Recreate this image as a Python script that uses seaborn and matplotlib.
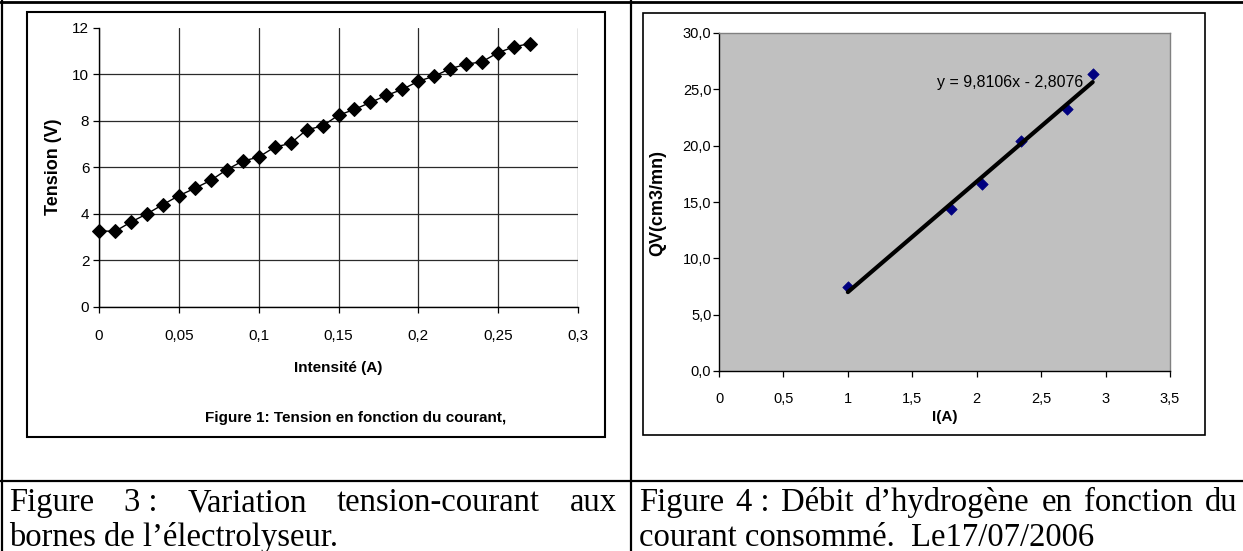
import numpy as np
import pandas as pd
import matplotlib
matplotlib.use("Agg")
import matplotlib.pyplot as plt
import seaborn as sns
from matplotlib.lines import Line2D
from matplotlib.patches import Rectangle

# ---------------- data ----------------
intensite_A = [0.00, 0.01, 0.02, 0.03, 0.04, 0.05, 0.06, 0.07, 0.08, 0.09,
               0.10, 0.11, 0.12, 0.13, 0.14, 0.15, 0.16, 0.17, 0.18, 0.19,
               0.20, 0.21, 0.22, 0.23, 0.24, 0.25, 0.26, 0.27]
tension_V = [3.27, 3.25, 3.65, 4.00, 4.40, 4.78, 5.10, 5.44, 5.90, 6.27,
             6.44, 6.87, 7.03, 7.61, 7.78, 8.24, 8.49, 8.79, 9.09, 9.35,
             9.70, 9.92, 10.24, 10.43, 10.54, 10.93, 11.18, 11.32]

courant_I = [1.00, 1.80, 2.04, 2.34, 2.70, 2.90]
debit_QV = [7.45, 14.40, 16.60, 20.45, 23.25, 26.35]
trend_slope = 9.8106
trend_intercept = -2.8076

left_xticks = [0, 0.05, 0.10, 0.15, 0.20, 0.25, 0.30]
left_xticklabels = ["0", "0,05", "0,1", "0,15", "0,2", "0,25", "0,3"]
left_yticks = [0, 2, 4, 6, 8, 10, 12]
left_yticklabels = ["0", "2", "4", "6", "8", "10", "12"]

right_xticks = [0, 0.5, 1, 1.5, 2, 2.5, 3, 3.5]
right_xticklabels = ["0", "0,5", "1", "1,5", "2", "2,5", "3", "3,5"]
right_yticks = [0, 5, 10, 15, 20, 25, 30]
right_yticklabels = ["0,0", "5,0", "10,0", "15,0", "20,0", "25,0", "30,0"]

left_xlabel = "Intensité (A)"
left_ylabel = "Tension (V)"
left_title = "Figure 1: Tension en fonction du courant,"
right_xlabel = "I(A)"
right_ylabel = "QV(cm3/mn)"

caption3_line1 = ["Figure", "3 :", "Variation", "tension-courant", "aux"]
caption3_line2 = "bornes de l\u2019électrolyseur."
caption4_line1 = ["Figure", "4 :", "Débit", "d\u2019hydrogène", "en", "fonction", "du"]
caption4_line2 = "courant consommé.  Le17/07/2006"

# ---------------- style ----------------
sns.set_theme(style="white", rc={
    "axes.edgecolor": "black", "text.color": "black",
    "axes.labelcolor": "black", "xtick.color": "black", "ytick.color": "black",
})
plt.rcParams["font.family"] = ["Liberation Sans", "DejaVu Sans"]

W, H = 1243, 551
fig = plt.figure(figsize=(W / 100, H / 100), dpi=100)
fig.patch.set_facecolor("white")


def fx(x):
    return x / W


def fy(y):
    return 1 - y / H


def axrect(l, t, r, b):
    return [l / W, 1 - b / H, (r - l) / W, (b - t) / H]


def hline(y, x0, x1, lw):
    fig.add_artist(Line2D([fx(x0), fx(x1)], [fy(y), fy(y)],
                          transform=fig.transFigure, color="black", lw=lw))


def vline(x, y0, y1, lw):
    fig.add_artist(Line2D([fx(x), fx(x)], [fy(y0), fy(y1)],
                          transform=fig.transFigure, color="black", lw=lw))


# table frame
hline(2, 0, W, 2.0)
vline(2, 0, H, 1.6)
vline(631, 0, H, 1.6)
hline(481, 0, W, 1.6)

# chart boxes
fig.add_artist(Rectangle((fx(27), fy(437)), (605 - 27) / W, (437 - 12) / H,
                         transform=fig.transFigure, fill=False,
                         edgecolor="black", lw=1.5))
fig.add_artist(Rectangle((fx(643), fy(435)), (1205 - 643) / W, (435 - 13) / H,
                         transform=fig.transFigure, fill=False,
                         edgecolor="black", lw=1.2))

# ---------------- left chart ----------------
ax1 = fig.add_axes(axrect(99, 27.7, 578, 307))
ax1.set_facecolor("white")
sns.lineplot(x=intensite_A, y=tension_V, ax=ax1, color="black", lw=1.0,
             marker="D", markersize=7.0, markeredgecolor="black",
             markerfacecolor="black", zorder=5, clip_on=False)
ax1.set_xlim(0, 0.3)
ax1.set_ylim(0, 12)
ax1.set_xticks(left_xticks)
ax1.set_xticklabels(left_xticklabels)
ax1.set_yticks(left_yticks)
ax1.set_yticklabels(left_yticklabels)
for s in ["top", "right"]:
    ax1.spines[s].set_visible(False)
for s in ["left", "bottom"]:
    ax1.spines[s].set_color("black")
    ax1.spines[s].set_linewidth(1.0)
ax1.grid(True, color="#2a2a2a", lw=0.9)
ax1.yaxis.get_major_ticks()[-1].gridline.set_visible(False)
ax1.tick_params(axis="x", direction="out", length=4.5, width=0.9,
                pad=11, labelsize=11, bottom=True)
ax1.tick_params(axis="y", direction="out", length=4.5, width=0.9,
                pad=2.5, labelsize=11, left=True)
ax1.set_xlabel(left_xlabel, fontsize=11, fontweight="bold")
ax1.set_ylabel(left_ylabel, fontsize=13, fontweight="bold")
ax1.xaxis.set_label_coords((338 - 99) / 479, (307 - 368) / 279.3)
ax1.xaxis.label.set_verticalalignment("center")
ax1.yaxis.set_label_coords((53 - 99) / 479, (307 - 167) / 279.3)
ax1.yaxis.label.set_verticalalignment("center")
fig.text(fx(356), fy(418), left_title, fontsize=11, fontweight="bold",
         ha="center", va="center")

# ---------------- right chart ----------------
ax2 = fig.add_axes(axrect(719, 33, 1170, 371))
ax2.set_facecolor("#c0c0c0")
fit_x = np.array([min(courant_I), max(courant_I)])
fit_y = trend_slope * fit_x + trend_intercept
sns.scatterplot(x=courant_I, y=debit_QV, ax=ax2, marker="D", s=34,
                color="#000080", edgecolor="#000080", linewidth=0.5, zorder=3)
sns.lineplot(x=fit_x, y=fit_y, ax=ax2, color="black", lw=3.0, zorder=4)
ax2.set_xlim(0, 3.5)
ax2.set_ylim(0, 30)
ax2.set_xticks(right_xticks)
ax2.set_xticklabels(right_xticklabels)
ax2.set_yticks(right_yticks)
ax2.set_yticklabels(right_yticklabels)
ax2.grid(False)
for s in ["top", "right"]:
    ax2.spines[s].set_color("#808080")
    ax2.spines[s].set_linewidth(1.0)
for s in ["left", "bottom"]:
    ax2.spines[s].set_color("black")
    ax2.spines[s].set_linewidth(1.0)
ax2.tick_params(axis="x", direction="out", length=4, width=0.9,
                pad=11, labelsize=10.5, bottom=True)
ax2.tick_params(axis="y", direction="out", length=4, width=0.9,
                pad=1.5, labelsize=10.5, left=True)
ax2.set_xlabel(right_xlabel, fontsize=11, fontweight="bold")
ax2.set_ylabel(right_ylabel, fontsize=13, fontweight="bold")
ax2.xaxis.set_label_coords((945 - 719) / 451, (371 - 417) / 338)
ax2.xaxis.label.set_verticalalignment("center")
ax2.yaxis.set_label_coords((658 - 719) / 451, (371 - 203) / 338)
ax2.yaxis.label.set_verticalalignment("center")
eq = "y = {:.4f}x - {:.4f}".format(trend_slope, abs(trend_intercept)).replace(".", ",")
ax2.text((937 - 719) / 451, (371 - 83) / 338, eq, transform=ax2.transAxes,
         fontsize=11.5, ha="left", va="center")

# ---------------- captions ----------------
serif = ["Liberation Serif", "DejaVu Serif"]
cap_size = 23.5


def justified(words, x0, x1, ybase):
    texts = [fig.text(0, 0, w, fontsize=cap_size, family=serif,
                      ha="left", va="baseline") for w in words]
    r = fig.canvas.get_renderer()
    widths = [t.get_window_extent(r).width for t in texts]
    gap = ((x1 - x0) - sum(widths)) / (len(words) - 1)
    x = x0
    for t, w in zip(texts, widths):
        t.set_position((fx(x), fy(ybase)))
        x += w + gap


justified(caption3_line1, 9, 617, 511)
fig.text(fx(9), fy(546), caption3_line2, fontsize=cap_size, family=serif,
         ha="left", va="baseline")
justified(caption4_line1, 639, 1237, 511)
fig.text(fx(639), fy(546), caption4_line2, fontsize=cap_size, family=serif,
         ha="left", va="baseline")

fig.savefig("out.png", dpi=100, facecolor="white")
